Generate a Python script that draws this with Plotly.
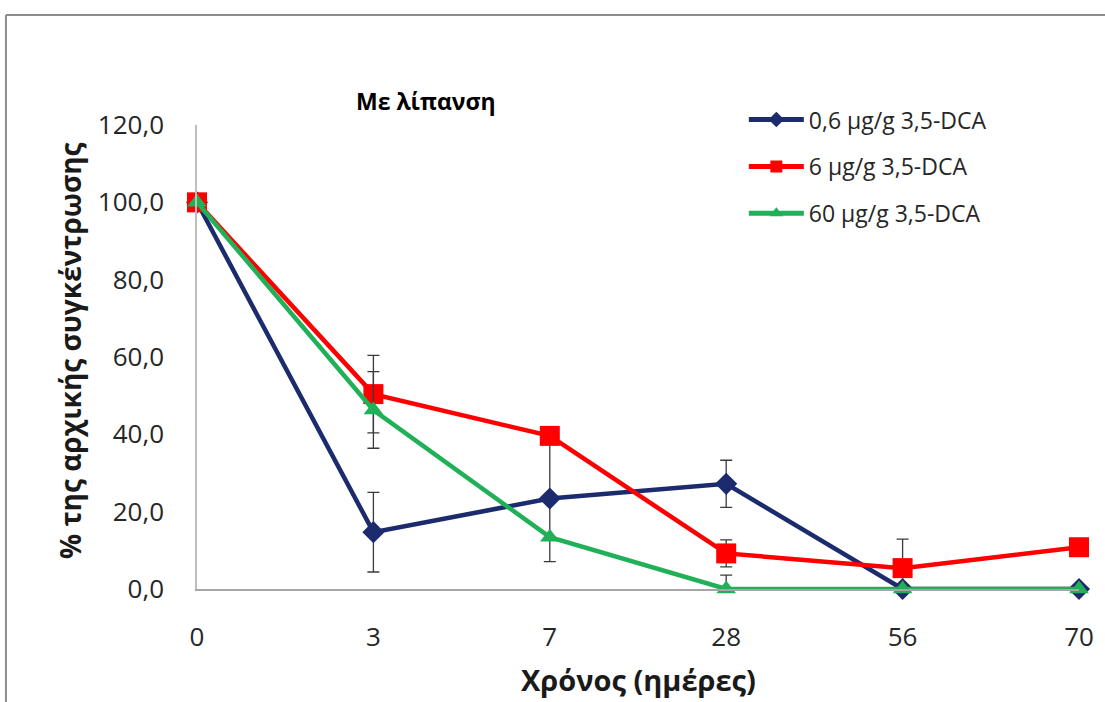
import plotly.graph_objects as go

days = ["0", "3", "7", "28", "56", "70"]
series_names = ["0,6 μg/g 3,5-DCA", "6 μg/g 3,5-DCA", "60 μg/g 3,5-DCA"]
low_vals = [100.0, 14.7, 23.4, 27.2, 0.0, 0.0]
low_err = [0.0, 10.3, 16.3, 6.1, 0.0, 0.0]
mid_vals = [100.0, 50.4, 39.6, 9.2, 5.4, 10.8]
mid_err = [0.0, 10.0, 0.0, 3.5, 7.5, 0.0]
mid_err_minus = [0.0, 10.0, 0.0, 3.5, 5.4, 0.0]
high_vals = [100.0, 46.3, 13.4, 0.0, 0.0, 0.0]
high_err = [0.0, 9.9, 0.0, 3.6, 0.0, 0.0]
high_err_minus = [0.0, 9.9, 0.0, 0.0, 0.0, 0.0]

navy = "#1c2a6e"
red = "#ff0000"
green = "#20b057"
errc = "#3a3a3a"
font = "Open Sans"

fig = go.Figure()
fig.add_trace(go.Scatter(
    x=days, y=low_vals, name=series_names[0], mode="lines+markers",
    line=dict(color=navy, width=4.5),
    marker=dict(symbol="diamond", size=17, color=navy),
    error_y=dict(type="data", array=low_err, color=errc, thickness=1.3, width=6),
    cliponaxis=False, legendgroup="a",
))
fig.add_trace(go.Scatter(
    x=days, y=mid_vals, name=series_names[1], mode="lines+markers",
    line=dict(color=red, width=4.5),
    marker=dict(symbol="square", size=20, color=red),
    error_y=dict(type="data", array=mid_err, arrayminus=mid_err_minus, color=errc, thickness=1.3, width=6),
    cliponaxis=False, legendgroup="b",
))
fig.add_trace(go.Scatter(
    x=days, y=high_vals, name=series_names[2], mode="lines+markers",
    line=dict(color=green, width=4.5),
    marker=dict(symbol="triangle-up", size=17, color=green),
    error_y=dict(type="data", array=high_err, arrayminus=high_err_minus, color=errc, thickness=1.3, width=6),
    cliponaxis=False, legendgroup="c",
))

fig.update_layout(
    width=1105, height=702,
    margin=dict(l=197, r=26, t=125, b=113),
    paper_bgcolor="white", plot_bgcolor="white",
    separators=",.",
    showlegend=True,
    legend=dict(
        x=0.62, y=1.058, xanchor="left", yanchor="top",
        font=dict(family=font, size=23, color="#262626"),
        bgcolor="rgba(0,0,0,0)", tracegroupgap=14, itemwidth=55,
        traceorder="grouped", itemsizing="constant",
    ),
    font=dict(family=font),
)
fig.update_xaxes(
    type="category", range=[0, 5], showgrid=False, zeroline=False,
    showline=True, linecolor="#a6a6a6", linewidth=1.5,
    ticks="", tickfont=dict(family=font, size=26, color="#262626"),
    ticklabelstandoff=24,
)
fig.update_yaxes(
    range=[0, 120], tickvals=[0, 20, 40, 60, 80, 100, 120], tickformat=".1f",
    showgrid=False, zeroline=False, showline=True, linecolor="#bfbfbf", linewidth=1.5,
    ticks="", tickfont=dict(family=font, size=26, color="#262626"),
    ticklabelstandoff=26,
)

fig.add_annotation(text="<b>Με λίπανση</b>", xref="paper", yref="paper",
                   x=0.2596, y=1.0517, xanchor="center", yanchor="middle", showarrow=False,
                   font=dict(family=font, size=23, color="black"))
fig.add_annotation(text="<b>Χρόνος (ημέρες)</b>", xref="paper", yref="paper",
                   x=0.5, y=-0.194, xanchor="center", yanchor="middle", showarrow=False,
                   font=dict(family=font, size=29, color="#1a1a1a"))
fig.add_annotation(text="<b>% της αρχικής συγκέντρωσης</b>", xref="paper", yref="paper",
                   x=-0.144, y=0.515, xanchor="center", yanchor="middle", showarrow=False,
                   textangle=-90,
                   font=dict(family=font, size=28, color="#1a1a1a"))

# outer chart frame (top and left edges)
fig.add_shape(type="line", xref="paper", yref="paper",
              x0=-0.2166, x1=1.05, y0=1.237, y1=1.237,
              line=dict(color="#8c8c8c", width=2))
fig.add_shape(type="line", xref="paper", yref="paper",
              x0=-0.2166, x1=-0.2166, y0=1.237, y1=-0.3,
              line=dict(color="#8c8c8c", width=2))

fig.write_html("out.html")
